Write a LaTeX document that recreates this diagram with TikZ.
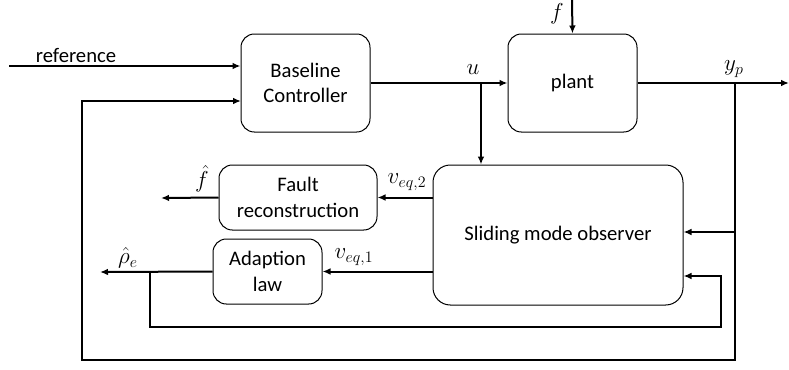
\documentclass[tikz,border=0pt]{standalone}
\usepackage{fontspec}
\setmainfont{Carlito}
\usetikzlibrary{arrows.meta}

\begin{document}
\begin{tikzpicture}[x=0.75pt,y=-0.75pt,->,>={Latex[length=6pt,width=5pt]},
                    line width=1.5pt,
                    block/.style={draw,rounded corners=10pt,line width=0.75pt,align=center,
                                  inner sep=0pt,font=\fontsize{15.5}{19}\selectfont},
                    lbl/.style={font=\fontsize{15.5}{19}\selectfont,inner sep=1pt},
                    sig/.style={font=\fontsize{17}{20}\selectfont,inner sep=1pt}]
        \useasboundingbox (0,0) rectangle (789,369);

        % Define blocks
        \node[block,minimum width=96.75pt,minimum height=73.5pt] (base) at (305.5,83) {Baseline\\Controller};
        \node[block,minimum width=96.75pt,minimum height=73.5pt] (plant) at (572.5,83) {plant};
        \node[block,rounded corners=13pt,minimum width=187.5pt,minimum height=105pt] (smo) at (558,235) {Sliding mode observer};
        \node[block,minimum width=118.5pt,minimum height=48.75pt] (fault) at (298,197.5) {Fault\\reconstruction};
        \node[block,minimum width=81.75pt,minimum height=48.75pt] (adapt) at (267.5,271.5) {Adaption\\law};

        % Branch points and free ends
        \coordinate (ref) at (9,66);
        \coordinate (ftop) at (572,0);
        \coordinate (ubr) at (481,83);
        \coordinate (ybr) at (735,83);
        \coordinate (yout) at (789,83);
        \coordinate (ytap) at (735,232);
        \coordinate (fbl) at (82,360);
        \coordinate (bin) at (241,101);
        \coordinate (rtap) at (150,272);
        \coordinate (rloop) at (721,327);
        \coordinate (rin) at (721,276);
        \coordinate (fout) at (161,198);
        \coordinate (rout) at (100,272);

        % Draw signals
        \draw (ref) -- (ref -| base.west);
        \draw (base.east) -- (plant.west);
        \draw (ftop) -- (plant.north);
        \draw (plant.east) -- (yout);
        \draw (ubr) -- (ubr |- smo.north);
        \draw (ytap) -- (ytap -| smo.east);
        \draw (ybr) |- (fbl) |- (bin);
        \draw (rtap) |- (rloop) -- (rin) -- (rin -| smo.east);
        \draw (smo.west |- fault.east) -- (fault.east);
        \draw (smo.west |- adapt.east) -- (adapt.east);
        \draw (fault.west) -- (fout);
        \draw (adapt.west) -- (rout);

        % Labels
        \node[lbl] at (76,55) {reference};
        \node[sig] at (473,70) {$u$};
        \node[sig] at (557,14) {$f$};
        \node[sig] at (734,69) {$y_p$};
        \node[sig] at (407,182) {$v_{eq,2}$};
        \node[sig] at (354,257) {$v_{eq,1}$};
        \node[sig] at (202,179) {$\hat{f}$};
        \node[sig] at (128,258) {$\hat{\rho}_e$};

\end{tikzpicture}
\end{document}
